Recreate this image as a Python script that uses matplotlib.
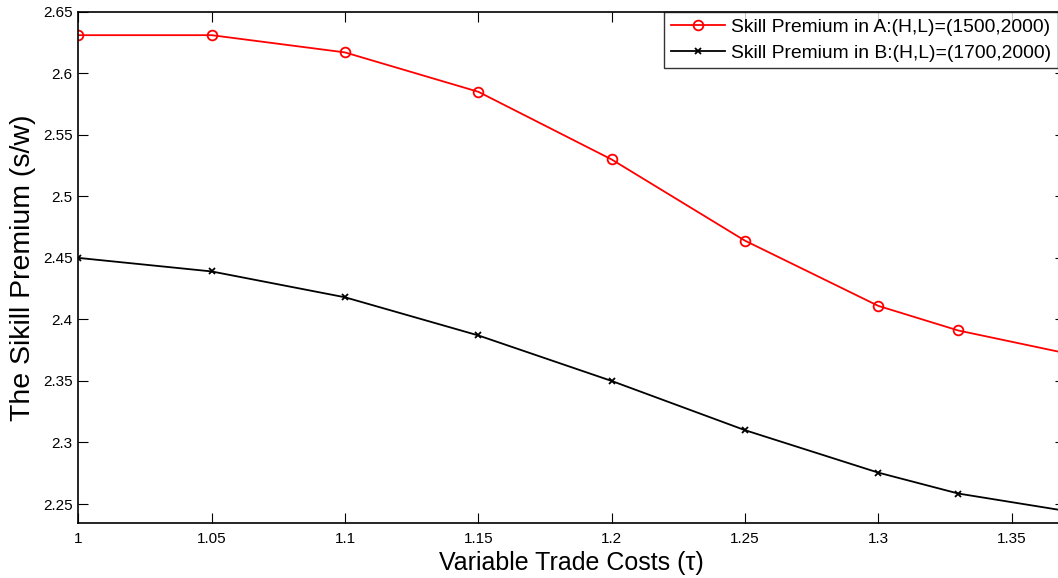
import matplotlib.pyplot as plt

plt.rcParams['font.family'] = ['Liberation Sans', 'DejaVu Sans']

# trade cost grid and skill premium for both economies
tau = [1.0, 1.05, 1.1, 1.15, 1.2, 1.25, 1.3, 1.33, 1.4]
premium_a = [2.631, 2.631, 2.617, 2.585, 2.530, 2.464, 2.411, 2.391, 2.359]
premium_b = [2.450, 2.439, 2.418, 2.387, 2.350, 2.310, 2.2755, 2.2585, 2.234]

xticks = [1, 1.05, 1.1, 1.15, 1.2, 1.25, 1.3, 1.35]
yticks = [2.25, 2.3, 2.35, 2.4, 2.45, 2.5, 2.55, 2.6, 2.65]

fig = plt.figure(figsize=(10.58, 5.78), dpi=100)
ax = fig.add_axes([0.074, 0.0946, 0.9326, 0.885])

ax.plot(tau, premium_a, color='red', lw=1.3, marker='o', markersize=7,
        markerfacecolor='none', markeredgewidth=1.3,
        label='Skill Premium in A:(H,L)=(1500,2000)')
ax.plot(tau, premium_b, color='black', lw=1.3, marker='x', markersize=5,
        markeredgewidth=1.3, label='Skill Premium in B:(H,L)=(1700,2000)')

ax.set_xlim(1, 1.37)
ax.set_ylim(2.2343, 2.65)
ax.set_xticks(xticks)
ax.set_xticklabels([f'{t:g}' for t in xticks])
ax.set_yticks(yticks)
ax.set_yticklabels([f'{t:g}' for t in yticks])
ax.tick_params(direction='in', length=7, width=0.8, top=True, right=True,
               labelsize=11, pad=4)
ax.tick_params(axis='x', pad=6)
for s in ax.spines.values():
    s.set_linewidth(1.2)

ax.set_xlabel('Variable Trade Costs (τ)', fontsize=18, labelpad=4)
ax.set_ylabel('The Sikill Premium (s/w)', fontsize=20.5, labelpad=5)

leg = ax.legend(loc='upper right', bbox_to_anchor=(0.9925, 1.0), fontsize=13.9,
                frameon=True, fancybox=False, edgecolor='black',
                borderpad=0.35, handlelength=2.8, handletextpad=0.3,
                labelspacing=0.42, borderaxespad=0)
leg.get_frame().set_linewidth(1.0)

fig.savefig('out.png', dpi=100)
